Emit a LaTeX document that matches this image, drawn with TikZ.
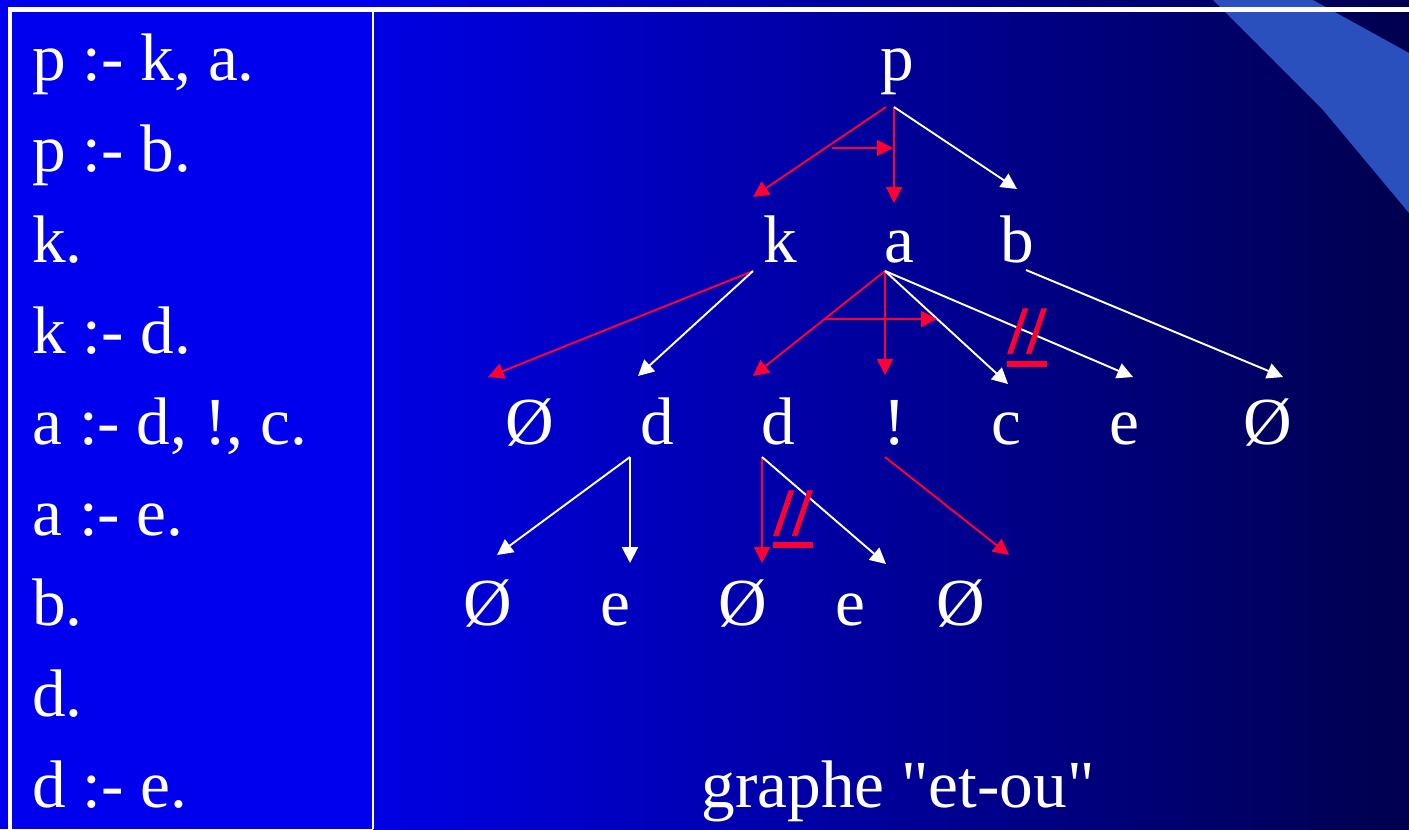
\documentclass[tikz,border=0pt]{standalone}
\usepackage{fontspec}
\setmainfont{Liberation Serif}
\newfontfamily\droitfont{Liberation Serif}
\newfontfamily\coupurefont[UprightFont=* Bold, FakeBold=1.2]{Liberation Serif}
\usetikzlibrary{arrows.meta,calc}
\definecolor{fondclair}{RGB}{0,0,238}
\definecolor{fondmilieu}{RGB}{0,0,228}
\definecolor{fondsombre}{RGB}{0,0,78}
\definecolor{bande}{RGB}{42,80,190}
\definecolor{rouge}{RGB}{255,0,51}

\begin{document}
\begin{tikzpicture}[x=0.02cm, y=-0.02cm,
    every node/.style={text=white, inner sep=0pt, anchor=base, font=\fontsize{38.3}{46}\selectfont},
    ou/.style={draw=white, line width=1.1pt, -{Triangle[length=9pt,width=9pt]}},
    et/.style={ou, draw=rouge},
    coupure/.style={text=rouge, font=\fontsize{38.3}{46}\selectfont\coupurefont},
    barre/.style={draw=rouge, line width=3.8pt}]
    \useasboundingbox (0,0) rectangle (1409,829);

    % fond
    \fill[fondclair] (0,0) rectangle (373,829);
    \shade[left color=fondmilieu, right color=fondsombre] (373,0) rectangle (1409,829);
    \fill[bande] (1213,0) -- (1313,0) -- (1409,53) -- (1409,213) -- (1323,110) -- cycle;
    \draw[white, line width=2.3pt] (1409,9.5) -- (10,9.5) -- (10,829);
    \draw[white, line width=1.7pt] (373,9.5) -- (373,829);

    % programme
    \node[anchor=base west] (r1) at (32,80)  {p :- k, a.};
    \node[anchor=base west] (r2) at (32,171) {p :- b.};
    \node[anchor=base west] (r3) at (32,262) {k.};
    \node[anchor=base west] (r4) at (32,353) {k :- d.};
    \node[anchor=base west] (r5) at (32,444) {a :- d, !, c.};
    \node[anchor=base west] (r6) at (32,535) {a :- e.};
    \node[anchor=base west] (r7) at (32,625) {b.};
    \node[anchor=base west] (r8) at (32,716) {d.};
    \node[anchor=base west] (r9) at (32,807) {d :- e.};

    % graphe
    \node (p) at (897,80) {p};
    \node (k) at (780,262) {k};
    \node (a) at (899,262) {a};
    \node (b) at (1017,262) {b};
    \node (v1) at (530,444) {Ø};
    \node (d1) at (657,444) {d};
    \node (d2) at (778,444) {d};
    \node (cut) at (895,444) {!};
    \node (c) at (1006,444) {c};
    \node (e1) at (1124,444) {e};
    \node (v2) at (1268,444) {Ø};
    \node (v3) at (488,625) {Ø};
    \node (e2) at (615,625) {e};
    \node (v4) at (743,625) {Ø};
    \node (e3) at (850,625) {e};
    \node (v5) at (961,625) {Ø};
    \node (titre) at (898,807) {\droitfont graphe "et-ou"};

    % p
    \draw[et] ($(p.base)+(-11,27)$) -- ($(k.base)+(-27,-65)$);
    \draw[et] ($(p.base)+(-3,27)$) -- ($(a.base)+(-5,-59)$);
    \draw[ou] ($(p.base)+(-3,27)$) -- ($(b.base)+(0,-73)$);
    \draw[et] ($(p.base)+(-65,68)$) -- ($(p.base)+(-4,68)$);

    % k, a, b
    \draw[et] ($(k.base)+(-27,9)$) -- ($(v1.base)+(-42,-67)$);
    \draw[ou] ($(k.base)+(-27,9)$) -- ($(d1.base)+(-19,-68)$);
    \draw[et] ($(a.base)+(-14,9)$) -- ($(d2.base)+(-25,-68)$);
    \draw[et] ($(a.base)+(-14,9)$) -- ($(cut.base)+(-10,-69)$);
    \draw[ou] ($(a.base)+(-14,9)$) -- ($(c.base)+(2,-60)$);
    \draw[ou] ($(a.base)+(-14,9)$) -- ($(e1.base)+(9,-67)$);
    \draw[et] ($(a.base)+(-74,57)$) -- ($(a.base)+(38,57)$);
    \draw[ou] ($(b.base)+(9,8)$) -- ($(v2.base)+(15,-67)$);

    % d, d, !
    \draw[ou] ($(d1.base)+(-27,13)$) -- ($(v3.base)+(9,-70)$);
    \draw[ou] ($(d1.base)+(-27,13)$) -- ($(e2.base)+(15,-62)$);
    \draw[et] ($(d2.base)+(-16,13)$) -- ($(v4.base)+(19,-62)$);
    \draw[ou] ($(d2.base)+(-16,13)$) -- ($(e3.base)+(36,-61)$);
    \draw[et] ($(cut.base)+(-10,13)$) -- ($(v5.base)+(48,-70)$);

    % coupures
    \node[coupure] (cp1) at (1027,353) {//};
    \draw[barre] ($(cp1.base west)+(-1,11)$) -- ($(cp1.base east)+(1,11)$);
    \node[coupure] (cp2) at (793,535) {//};
    \draw[barre] ($(cp2.base west)+(-1,10)$) -- ($(cp2.base east)+(1,10)$);
\end{tikzpicture}
\end{document}
